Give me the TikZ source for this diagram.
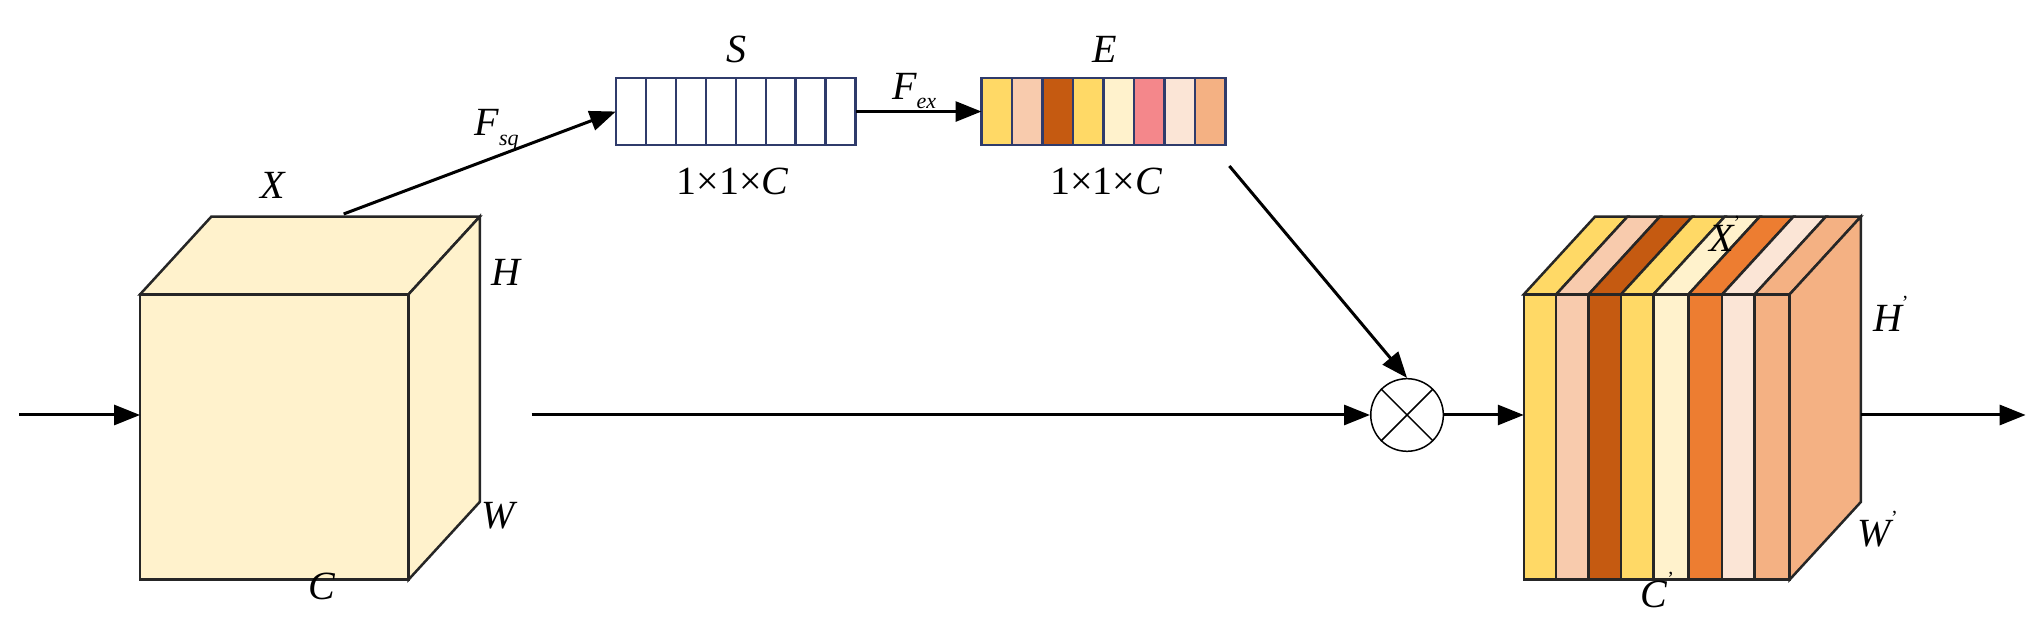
\documentclass[tikz,border=0pt]{standalone}
\usepackage{fontspec}
\setmainfont{Liberation Serif}
\usetikzlibrary{arrows.meta}
\definecolor{cream}{HTML}{FFF2CC}
\definecolor{yel}{HTML}{FFD966}
\definecolor{peach}{HTML}{F8CBAD}
\definecolor{brn}{HTML}{C55A11}
\definecolor{pink}{HTML}{F4878B}
\definecolor{pale}{HTML}{FBE5D6}
\definecolor{org}{HTML}{F4B183}
\definecolor{orn}{HTML}{ED7D31}
\definecolor{navy}{HTML}{2F3B6B}
\begin{document}
\begin{tikzpicture}[x=1.297pt,y=-1.297pt,
  lbl/.style={font=\fontsize{40}{44}\selectfont\itshape, inner sep=0},
  arr/.style={line width=3pt,-{Triangle[length=26pt,width=20pt]}},
  box/.style={line width=2.5pt,draw=black!85}]
\useasboundingbox (0,0) rectangle (1570,477);
% input cube
\fill[cream,box] (108,227) -- (163,167) -- (370,167) -- (315,227) -- cycle;
\fill[cream,box] (315,227) -- (370,167) -- (370,387) -- (315,447) -- cycle;
\fill[cream,box] (108,227) rectangle (315,447);
\coordinate (cin) at (108,320);
\coordinate (ctop) at (265,165);
% output cube
\def\xs{{1175,1200,1225,1250,1275,1302,1328,1353,1380}}
\foreach \c [count=\i from 0] in {yel,peach,brn,yel,cream,orn,pale,org}{
  \pgfmathsetmacro{\a}{\xs[\i]}\pgfmathsetmacro{\b}{\xs[\i+1]}
  \fill[\c,box] (\a,227) -- (\a+55,167) -- (\b+55,167) -- (\b,227) -- cycle;
}
\fill[org,box] (1380,227) -- (1435,167) -- (1435,387) -- (1380,447) -- cycle;
\foreach \c [count=\i from 0] in {yel,peach,brn,yel,cream,orn,pale,org}{
  \pgfmathsetmacro{\a}{\xs[\i]}\pgfmathsetmacro{\b}{\xs[\i+1]}
  \fill[\c,box] (\a,227) rectangle (\b,447);
}
\coordinate (cout) at (1175,320);
\coordinate (cright) at (1435,320);
\coordinate (end) at (1562,320);
\coordinate (start) at (15,320);
\coordinate (mid) at (410,320);
% S bar
\foreach \i in {0,...,7}{
  \draw[line width=2.5pt,draw=navy] ({475+\i*23.1},60) rectangle ({475+(\i+1)*23.1},112);}
\node[minimum width=185*1.297pt,minimum height=52*1.297pt,inner sep=0] (S) at (567.5,86) {};
% E bar
\foreach \c [count=\i from 0] in {yel,peach,brn,yel,cream,pink,pale,org}{
  \draw[line width=2.5pt,draw=navy,fill=\c] ({757+\i*23.5},60) rectangle ({757+(\i+1)*23.5},112);}
\node[minimum width=188*1.297pt,minimum height=52*1.297pt,inner sep=0] (E) at (851,86) {};
\coordinate (eout) at (948,128);
% otimes
\node[circle,draw,line width=1.5pt,minimum size=56*1.297pt,inner sep=0] (m) at (1085,320) {};
\draw[line width=1.5pt] (m.45) -- (m.225) (m.135) -- (m.315);
% arrows
\draw[arr] (start) -- (cin);
\draw[arr] (ctop) -- (S.west);
\draw[arr] (S.east) -- (E.west);
\draw[arr] (eout) -- (m.north);
\draw[arr] (mid) -- (m.west);
\draw[arr] (m.east) -- (cout);
\draw[arr] (cright) -- (end);
% labels
\node[lbl] (lX) at (210,143) {X};
\node[lbl] (lH) at (390,210) {H};
\node[lbl] (lW) at (384,398) {W};
\node[lbl] (lC) at (248,452) {C};
\node[lbl] (lS) at (568,38) {S};
\node[lbl] (lE) at (852,38) {E};
\node[lbl] (ls1) at (565,140) {\upshape 1×1×\itshape C};
\node[lbl] (ls2) at (853,140) {\upshape 1×1×\itshape C};
\node[lbl] (lfsq) at (383,100) {F\raisebox{-0.5ex}{\fontsize{22}{24}\selectfont sq}};
\node[lbl] (lfex) at (705,70) {F\raisebox{-0.5ex}{\fontsize{22}{24}\selectfont ex}};
\node[lbl] (lX2) at (1330,180) {X\raisebox{1.2ex}{\upshape\fontsize{20}{22}\selectfont '}};
\node[lbl] (lH2) at (1458,242) {H\raisebox{1.2ex}{\upshape\fontsize{20}{22}\selectfont '}};
\node[lbl] (lW2) at (1448,408) {W\raisebox{1.2ex}{\upshape\fontsize{20}{22}\selectfont '}};
\node[lbl] (lC2) at (1278,455) {C\raisebox{1.2ex}{\upshape\fontsize{20}{22}\selectfont '}};
\end{tikzpicture}
\end{document}
